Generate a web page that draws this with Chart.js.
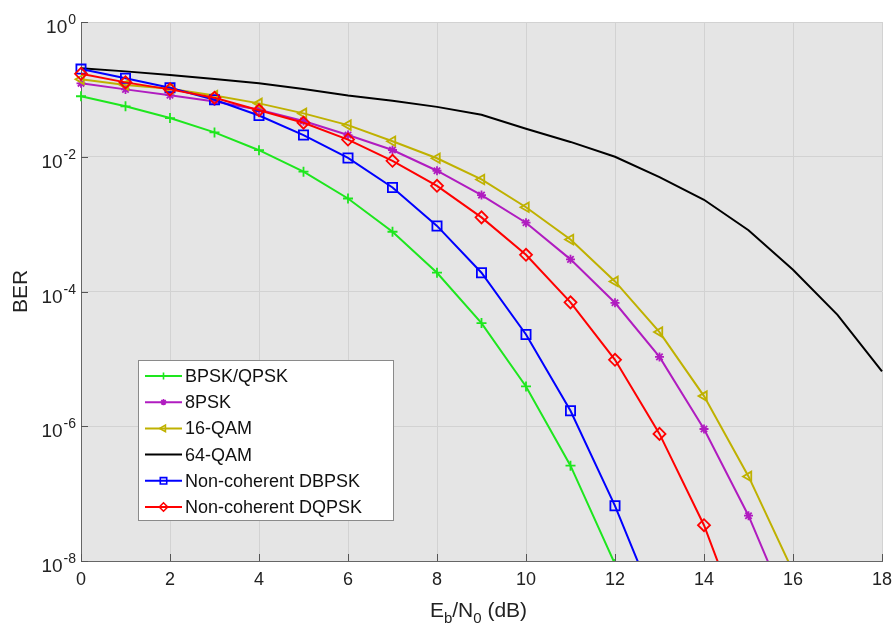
<!DOCTYPE html>
<html>
<head>
<meta charset="utf-8">
<script src="https://cdn.jsdelivr.net/npm/chart.js@4.4.1/dist/chart.umd.min.js"></script>
<style>
  html, body { margin: 0; padding: 0; background: #fff; }
  #wrap { width: 895px; height: 625px; }
</style>
</head>
<body>
<div id="wrap"><canvas id="berChart" width="895" height="625"></canvas></div>
<script>
// Eb/N0 in dB, one entry per simulated point
const ebn0 = [0, 1, 2, 3, 4, 5, 6, 7, 8, 9, 10, 11, 12, 13, 14, 15, 16, 17, 18];

// BER values (each series stops where it leaves the plot)
const berBpsk = [0.079, 0.056, 0.0375, 0.023, 0.0125, 0.006, 0.0024, 7.7e-4, 1.9e-4, 3.4e-5, 3.9e-6, 2.6e-7, 9e-9];
const berPsk8 = [0.123, 0.1, 0.082, 0.066, 0.05, 0.034, 0.021, 0.0126, 0.0062, 0.0027, 0.00105, 3.0e-4, 6.8e-5, 1.07e-5, 9.1e-7, 4.7e-8, 1.3e-9];
const berQam16 = [0.141, 0.116, 0.102, 0.081, 0.062, 0.044, 0.0295, 0.017, 0.0095, 0.0046, 0.00178, 5.9e-4, 1.41e-4, 2.5e-5, 2.8e-6, 1.8e-7, 7e-9];
const berQam64 = [0.206, 0.185, 0.164, 0.143, 0.123, 0.101, 0.081, 0.068, 0.055, 0.042, 0.026, 0.0166, 0.01, 0.005, 0.0023, 8.1e-4, 2.1e-4, 4.5e-5, 6.5e-6];
const berDbpsk = [0.2, 0.146, 0.106, 0.07, 0.041, 0.021, 0.0096, 0.0035, 9.4e-4, 1.9e-4, 2.3e-5, 1.7e-6, 6.6e-8, 1.6e-9];
const berDqpsk = [0.17, 0.127, 0.1, 0.075, 0.049, 0.032, 0.018, 0.0087, 0.0037, 0.00126, 3.5e-4, 6.9e-5, 9.7e-6, 7.7e-7, 3.4e-8, 6e-10];

const seriesNames = ["BPSK/QPSK", "8PSK", "16-QAM", "64-QAM", "Non-coherent DBPSK", "Non-coherent DQPSK"];
const xTicks = [0, 2, 4, 6, 8, 10, 12, 14, 16, 18];
const yTickExponents = [0, -2, -4, -6, -8];

const FONT = "'Liberation Sans', Arial, Helvetica, sans-serif";

function toPoints(values) {
  return values.map((v, i) => ({ x: ebn0[i], y: v }));
}

function makeSeries(label, values, color, style, radius, rotation, order) {
  return {
    label: label,
    data: toPoints(values),
    borderColor: color,
    backgroundColor: "rgba(0,0,0,0)",
    borderWidth: 2,
    pointStyle: style,
    pointRadius: style ? radius : 0,
    pointHoverRadius: style ? radius : 0,
    pointBorderWidth: 1.8,
    pointBorderColor: color,
    pointBackgroundColor: "rgba(0,0,0,0)",
    pointRotation: rotation,
    tension: 0,
    order: order,
    clip: { left: 12, top: 12, right: 12, bottom: 0 },
  };
}

const datasets = [
  makeSeries(seriesNames[0], berBpsk, "#1ee61e", "cross", 5, 0, 6),
  makeSeries(seriesNames[1], berPsk8, "#b01cc0", "star", 4.5, 0, 5),
  makeSeries(seriesNames[2], berQam16, "#bfb100", "triangle", 5.5, -90, 4),
  makeSeries(seriesNames[3], berQam64, "#000000", false, 0, 0, 3),
  makeSeries(seriesNames[4], berDbpsk, "#0000ff", "rect", 6.5, 0, 2),
  makeSeries(seriesNames[5], berDqpsk, "#ff0000", "rectRot", 6, 0, 1),
];

// gray plot background
const plotBackground = {
  id: "plotBackground",
  beforeDraw(chart) {
    const { ctx, chartArea: a } = chart;
    ctx.save();
    ctx.fillStyle = "#e5e5e5";
    ctx.fillRect(a.left, a.top, a.right - a.left, a.bottom - a.top);
    ctx.restore();
  },
};

// inward ticks, power-of-ten labels and axis titles
const axisDecor = {
  id: "axisDecor",
  afterDraw(chart) {
    const { ctx, chartArea: a } = chart;
    const xs = chart.scales.x;
    const ys = chart.scales.y;
    ctx.save();
    ctx.strokeStyle = "#555";
    ctx.lineWidth = 1;
    ctx.beginPath();
    xTicks.forEach((t) => {
      const px = Math.round(xs.getPixelForValue(t)) + 0.5;
      ctx.moveTo(px, a.bottom);
      ctx.lineTo(px, a.bottom - 7);
    });
    yTickExponents.forEach((e) => {
      const py = Math.round(ys.getPixelForValue(Math.pow(10, e))) + 0.5;
      ctx.moveTo(a.left, py);
      ctx.lineTo(a.left + 7, py);
    });
    ctx.stroke();

    // y labels: 10 with superscript exponent
    ctx.fillStyle = "#222";
    ctx.textBaseline = "alphabetic";
    const rightEdge = a.left - 5;
    yTickExponents.forEach((e) => {
      const py = ys.getPixelForValue(Math.pow(10, e));
      const expText = e === 0 ? "0" : "-" + Math.abs(e);
      ctx.font = "14px " + FONT;
      const expW = ctx.measureText(expText).width;
      ctx.textAlign = "right";
      ctx.fillText(expText, rightEdge, py + 2);
      ctx.font = "19px " + FONT;
      ctx.fillText("10", rightEdge - expW - 1, py + 11);
    });

    // y title
    ctx.save();
    ctx.translate(27, (a.top + a.bottom) / 2);
    ctx.rotate(-Math.PI / 2);
    ctx.font = "21px " + FONT;
    ctx.textAlign = "center";
    ctx.fillText("BER", 0, 0);
    ctx.restore();

    // x title: E_b/N_0 (dB)
    const parts = [
      { t: "E", size: 21, dy: 0 },
      { t: "b", size: 15, dy: 6 },
      { t: "/N", size: 21, dy: 0 },
      { t: "0", size: 15, dy: 6 },
      { t: " (dB)", size: 21, dy: 0 },
    ];
    let total = 0;
    parts.forEach((p) => {
      ctx.font = p.size + "px " + FONT;
      p.w = ctx.measureText(p.t).width;
      total += p.w;
    });
    let x = (a.left + a.right) / 2 - total / 2 - 3;
    const base = 617;
    ctx.textAlign = "left";
    parts.forEach((p) => {
      ctx.font = p.size + "px " + FONT;
      ctx.fillText(p.t, x, base + p.dy);
      x += p.w;
    });
    ctx.restore();
  },
};

// legend box in the lower left of the plot
const boxLegend = {
  id: "boxLegend",
  afterDatasetsDraw(chart) {
    const { ctx } = chart;
    const left = 138.5, top = 360.5, width = 255, height = 160;
    ctx.save();
    ctx.fillStyle = "#ffffff";
    ctx.fillRect(left, top, width, height);
    ctx.strokeStyle = "#8a8a8a";
    ctx.lineWidth = 1;
    ctx.strokeRect(left, top, width, height);

    chart.data.datasets.forEach((ds, i) => {
      const y = 376 + i * 26.2;
      ctx.strokeStyle = ds.borderColor;
      ctx.lineWidth = 2;
      ctx.beginPath();
      ctx.moveTo(145, y);
      ctx.lineTo(182, y);
      ctx.stroke();
      if (ds.pointStyle) {
        ctx.lineWidth = 1.6;
        ctx.fillStyle = "rgba(0,0,0,0)";
        Chart.helpers.drawPoint(ctx, {
          pointStyle: ds.pointStyle,
          radius: ds.pointRadius * 0.7,
          rotation: ds.pointRotation,
          borderWidth: 1.6,
        }, 163.5, y);
      }
      ctx.fillStyle = "#111";
      ctx.font = "18px " + FONT;
      ctx.textAlign = "left";
      ctx.textBaseline = "middle";
      ctx.fillText(ds.label, 185, y + 1);
    });
    ctx.restore();
  },
};

const ctx = document.getElementById("berChart").getContext("2d");
const berChart = new Chart(ctx, {
  type: "line",
  data: { datasets: datasets },
  plugins: [plotBackground, axisDecor, boxLegend],
  options: {
    responsive: false,
    animation: false,
    layout: { padding: { top: 22, right: 13, left: 0, bottom: 0 } },
    plugins: {
      legend: { display: false },
      tooltip: { enabled: false },
    },
    scales: {
      x: {
        type: "linear",
        min: 0,
        max: 18,
        afterBuildTicks: (scale) => {
          scale.ticks = xTicks.map((v) => ({ value: v }));
        },
        afterFit: (scale) => {
          scale.height = 64;
          scale.paddingLeft = 0;
          scale.paddingRight = 0;
        },
        grid: { color: "#d2d2d2", lineWidth: 1, drawTicks: false },
        border: { color: "#666", width: 1 },
        ticks: {
          padding: 8,
          color: "#222",
          font: { family: FONT, size: 18 },
          maxRotation: 0,
        },
      },
      y: {
        type: "logarithmic",
        min: 1e-8,
        max: 1,
        afterBuildTicks: (scale) => {
          scale.ticks = yTickExponents.map((e) => ({ value: Math.pow(10, e) }));
        },
        afterFit: (scale) => {
          scale.width = 81;
          scale.paddingTop = 0;
          scale.paddingBottom = 0;
        },
        grid: { color: "#d2d2d2", lineWidth: 1, drawTicks: false },
        border: { color: "#666", width: 1 },
        ticks: { display: false },
      },
    },
  },
});
</script>
</body>
</html>
